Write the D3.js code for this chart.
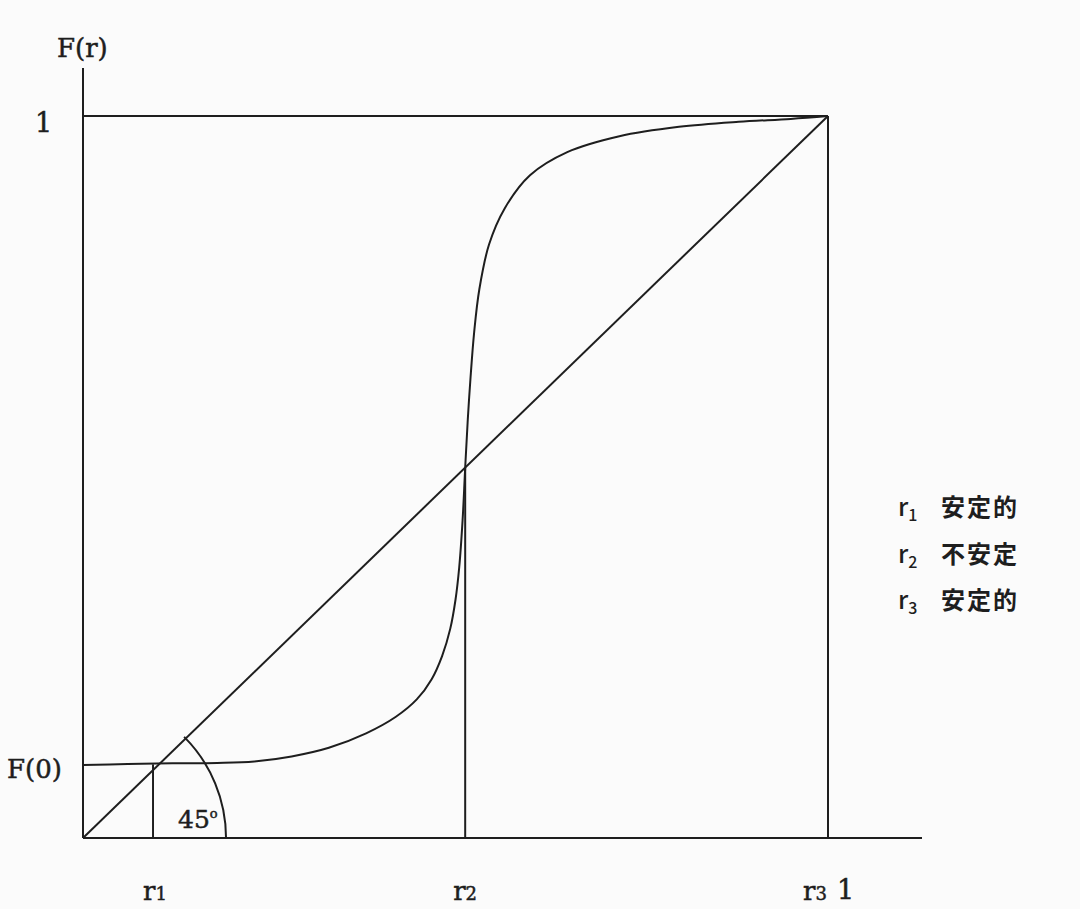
<!DOCTYPE html>
<html>
<head>
<meta charset="utf-8">
<script src="https://cdn.jsdelivr.net/npm/d3@7"></script>
<style>
  html, body { margin: 0; padding: 0; background: #fbfbfb; }
  svg { display: block; }
</style>
</head>
<body>
<script>
// ---- data ----
const curveR = [0, 0.060, 0.120, 0.180, 0.230, 0.280, 0.330, 0.380, 0.420, 0.448, 0.468, 0.482, 0.493, 0.500, 0.505, 0.5095, 0.513, 0.5165, 0.520, 0.525, 0.532, 0.545, 0.566, 0.600, 0.650, 0.720, 0.800, 0.880, 0.950, 1.0];
const curveF = [0.101, 0.1025, 0.1035, 0.104, 0.106, 0.113, 0.125, 0.145, 0.168, 0.192, 0.220, 0.252, 0.290, 0.330, 0.375, 0.440, 0.5125, 0.580, 0.635, 0.700, 0.760, 0.822, 0.872, 0.918, 0.950, 0.972, 0.985, 0.992, 0.996, 1.0];
const diagonal = [[0, 0], [1, 1]];
const eqR = [0.094, 0.513, 1.0];       // r1, r2, r3
const eqF = [0.102, 0.5125, 1.0];
const eqLabels = ["1", "2", "3"];
const legendText = ["安定的", "不安定", "安定的"];
const angleArcR = 0.192;                // radius of the 45° arc in r units

// ---- layout ----
const W = 1080, H = 909;
const svg = d3.select("body").append("svg").attr("width", W).attr("height", H);

const x = d3.scaleLinear().domain([0, 1]).range([83, 828]);
const y = d3.scaleLinear().domain([0, 1]).range([838, 116]);

const ink = "#1e1e1e";
const sw = 2;
const g = svg.append("g").attr("fill", "none").attr("stroke", ink).attr("stroke-width", sw);

// axes
g.append("line").attr("x1", x(0)).attr("x2", x(0)).attr("y1", y(0)).attr("y2", y(1) - 48);
g.append("line").attr("x1", x(0)).attr("x2", x(1) + 94).attr("y1", y(0)).attr("y2", y(0));
// top line F = 1 and right line r = 1
g.append("line").attr("x1", x(0)).attr("x2", x(1)).attr("y1", y(1)).attr("y2", y(1));
g.append("line").attr("x1", x(1)).attr("x2", x(1)).attr("y1", y(1)).attr("y2", y(0));

// 45° line
g.append("path").attr("d", d3.line().x(d => x(d[0])).y(d => y(d[1]))(diagonal));

// S-curve
const pts = curveR.map((r, i) => [r, curveF[i]]);
g.append("path")
  .attr("d", d3.line().x(d => x(d[0])).y(d => y(d[1])).curve(d3.curveCatmullRom.alpha(0.5))(pts));

// vertical drop lines at r1, r2
eqR.slice(0, 2).forEach((r, i) => {
  g.append("line").attr("x1", x(r)).attr("x2", x(r)).attr("y1", y(0)).attr("y2", y(eqF[i]));
});

// 45° arc
const rad = x(angleArcR) - x(0);
g.append("path")
  .attr("transform", `translate(${x(0)},${y(0)})`)
  .attr("d", d3.arc()({innerRadius: rad, outerRadius: rad, startAngle: Math.PI / 4, endAngle: Math.PI / 2}));

// ---- text ----
const serif = "'DejaVu Serif', 'Liberation Serif', serif";
const t = svg.append("g").attr("fill", ink).attr("stroke", ink).attr("stroke-width", 0.5)
  .attr("font-family", serif);

t.append("text").attr("x", 57).attr("y", 57).attr("font-size", 26).text("F(r)");
t.append("text").attr("x", 35).attr("y", 132).attr("font-size", 27).text("1");
t.append("text").attr("x", 7).attr("y", 778).attr("font-size", 26).text("F(0)");

const a = t.append("text").attr("x", 178).attr("y", 828).attr("font-size", 25);
a.append("tspan").text("45");
a.append("tspan").attr("font-size", 13).attr("dy", -10).text("o");

// r labels under the x axis
const labelOffset = [10, 12, 25];
eqR.forEach((r, i) => {
  const tx = t.append("text").attr("x", x(r) - labelOffset[i]).attr("y", 900).attr("font-size", 26);
  tx.append("tspan").text("r");
  tx.append("tspan").attr("font-size", 18).text(eqLabels[i]);
});
t.append("text").attr("x", x(1) + 9).attr("y", 899).attr("font-size", 27).text("1");

// legend
const sans = "'Noto Sans CJK JP', 'Noto Sans', sans-serif";
const lg = svg.append("g").attr("fill", ink).attr("font-family", sans);
legendText.forEach((s, i) => {
  const yy = 516 + i * 46.5;
  const tx = lg.append("text").attr("x", 898).attr("y", yy).attr("font-size", 25).attr("font-weight", 500);
  tx.append("tspan").text("r");
  tx.append("tspan").attr("font-size", 16).attr("dy", 5).text(eqLabels[i]);
  lg.append("text").attr("x", 941).attr("y", yy).attr("font-size", 24)
    .attr("font-weight", 700).attr("letter-spacing", 2).text(s);
});
</script>
</body>
</html>
